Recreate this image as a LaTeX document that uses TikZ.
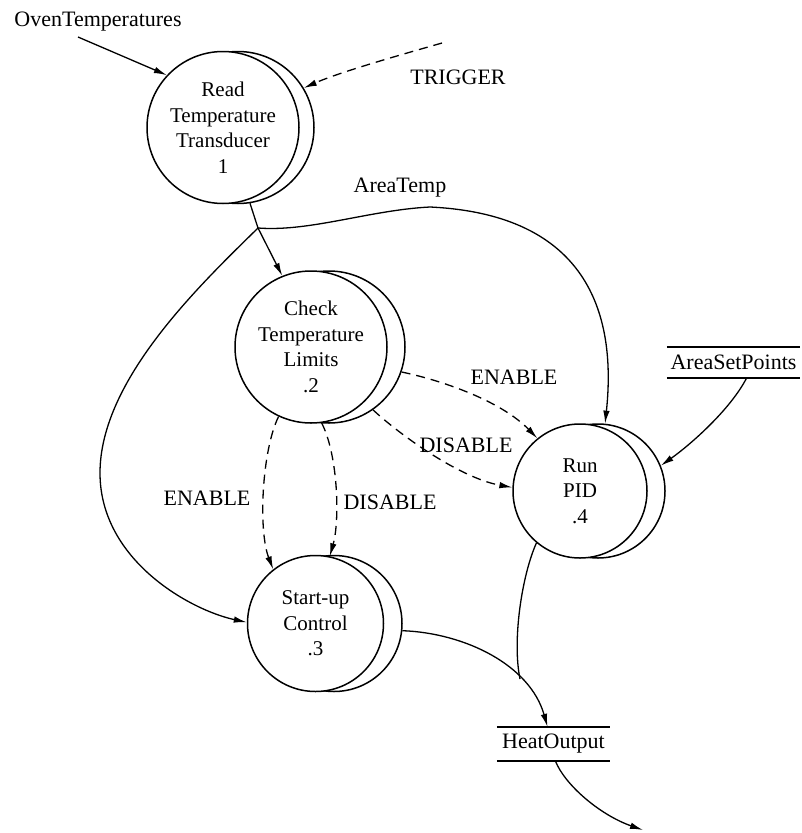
\documentclass[tikz,border=0pt]{standalone}
\usepackage{fontspec}
\setmainfont{Liberation Serif}
\usetikzlibrary{arrows.meta}
\begin{document}
\begin{tikzpicture}[x=1pt,y=-1pt,
  every node/.style={font=\fontsize{21}{25.5}\selectfont},
  proc/.style={circle,draw,fill=white,line width=1.5pt,inner sep=0pt,align=center},
  procshade/.style={circle,draw,fill=white,line width=1.5pt,inner sep=0pt},
  flow/.style={line width=1.3pt,-{Latex[length=13pt,width=6.5pt]}},
  ctrl/.style={flow,dash pattern=on 9pt off 6pt},
  plain/.style={line width=1.3pt},
  store/.style={inner sep=0pt,font=\fontsize{22}{26}\selectfont},
  storeline/.style={line width=1.5pt},
  lbl/.style={inner sep=0pt,font=\fontsize{22}{26}\selectfont}]

\fill[white] (0,0) rectangle (802,833);
\useasboundingbox (0,0) rectangle (802,833);

% processes: a shadow circle behind each bubble gives the crescent
\node[procshade,minimum size=152pt] (p1s) at (238,127.5) {};
\node[proc,minimum size=152pt] (p1) at (223,127.5) {Read\\Temperature\\Transducer\\1};

\node[procshade,minimum size=152pt] (p2s) at (329,347) {};
\node[proc,minimum size=152pt] (p2) at (311,347) {Check\\Temperature\\Limits\\.2};

\node[procshade,minimum size=136pt] (p3s) at (334,623.5) {};
\node[proc,minimum size=136pt] (p3) at (315.5,623.5) {Start-up\\Control\\.3};

\node[procshade,minimum size=134pt] (p4s) at (598,491) {};
\node[proc,minimum size=134pt] (p4) at (580,491) {Run\\PID\\.4};

% data stores
\node[store,minimum width=113pt,minimum height=34pt] (ho) at (553.5,744) {HeatOutput};
\draw[storeline] (ho.north west) -- (ho.north east) (ho.south west) -- (ho.south east);
\node[store,minimum width=133pt,minimum height=31pt] (as) at (733.5,362.5) {AreaSetPoints};
\draw[storeline] (as.north west) -- (as.north east) (as.south west) -- (as.south east);

% labels
\node[lbl] (oven) at (98,22) {OvenTemperatures};
\node[lbl] (trig) at (458,77) {TRIGGER};
\node[lbl] (atemp) at (400,188) {AreaTemp};
\node[lbl] (en1) at (207,498) {ENABLE};
\node[lbl] (dis1) at (390,502) {DISABLE};
\node[lbl] (en2) at (514,377) {ENABLE};
\node[lbl] (dis2) at (466,445) {DISABLE};

% free ends and junctions
\coordinate (ovensrc) at (78,37);
\coordinate (trigsrc) at (442,43);
\coordinate (br) at (258,228);
\coordinate (merge) at (520,679);
\coordinate (hosink) at (643,830);

% data flows
\draw[flow] (ovensrc) -- (p1.137);
\draw[plain] (p1s.-81) -- (br);
\draw[flow] (br) -- (p2.112);
\draw[flow] (br) .. controls (310,232) and (370,210) .. (430,207)
  .. controls (600,215) and (615,330) .. (p4s.84);
\draw[flow] (br) .. controls (200,285) and (100,380) .. (100,473)
  .. controls (100,560) and (190,610) .. (p3.179);
\draw[flow] ([xshift=13pt]as.south) .. controls (730,410) and (690,445) .. (p4s.22);
\draw[plain] (p4.-130) .. controls (522,575) and (512,640) .. (merge);
\draw[flow] (p3s.-6) .. controls (465,633) and (530,665) .. ([xshift=-6pt]ho.north);
\draw[flow] ([xshift=2pt]ho.south) .. controls (565,785) and (600,815) .. (hosink);

% control flows
\draw[ctrl] (trigsrc) .. controls (400,55) and (340,72) .. (p1s.31);
\draw[ctrl] (p2s.-19) .. controls (440,380) and (500,400) .. (p4.129);
\draw[ctrl] (p2s.-55) .. controls (400,435) and (460,478) .. (p4.177);
\draw[ctrl] (p2.-115) .. controls (262,450) and (258,530) .. (p3.128);
\draw[ctrl] (p2.-82) .. controls (338,455) and (340,520) .. (p3.78);
\end{tikzpicture}
\end{document}
